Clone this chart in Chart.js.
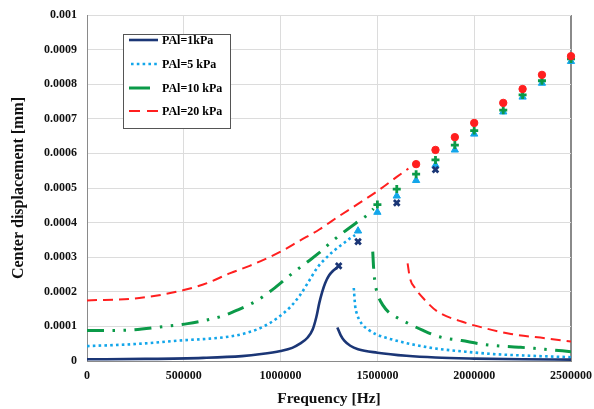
<!DOCTYPE html>
<html>
<head>
<meta charset="utf-8">
<script src="https://cdn.jsdelivr.net/npm/chart.js@4.4.0/dist/chart.umd.min.js"></script>
<style>
  html, body { margin: 0; padding: 0; background: #fff; }
  canvas { display: block; }
</style>
</head>
<body>
<canvas id="chart" width="594" height="409"></canvas>
<script>
// Axis tick labels
const xTickLabels = ['0', '500000', '1000000', '1500000', '2000000', '2500000'];
const yTickLabels = ['0', '0.0001', '0.0002', '0.0003', '0.0004', '0.0005',
                     '0.0006', '0.0007', '0.0008', '0.0009', '0.001'];

// Series names
const seriesNames = ['PAl=1kPa', 'PAl=5 kPa', 'PAl=10 kPa', 'PAl=20 kPa'];

// PAl = 1 kPa : curve below and above resonance [Hz], [mm]
const freq1L = [0, 300000, 600000, 800000, 900000, 1000000, 1060000, 1100000, 1140000, 1165000,
                1185000, 1200000, 1215000, 1230000, 1250000, 1270000, 1290000];
const disp1L = [0.000005, 0.000006, 0.000009, 0.000014, 0.00002, 0.000029, 0.000038, 0.00005, 0.000068, 0.00009,
                0.000128, 0.000168, 0.0002, 0.000225, 0.000247, 0.00026, 0.000269];
const freq1R = [1293000, 1310000, 1330000, 1360000, 1400000, 1500000, 1650000, 1800000, 2000000, 2250000, 2500000];
const disp1R = [0.000097, 0.000075, 0.000058, 0.000044, 0.000034, 0.000024, 0.000015, 0.00001, 0.000007, 0.000005, 0.000004];

// PAl = 5 kPa
const freq5L = [0, 250000, 500000, 620000, 740000, 830000, 910000, 980000, 1050000, 1100000,
                1140000, 1190000, 1230000, 1270000, 1320000, 1360000, 1385000];
const disp5L = [0.000043, 0.000049, 0.00006, 0.000064, 0.000071, 0.000082, 0.000099, 0.000123, 0.000156, 0.00019,
                0.000225, 0.00027, 0.000295, 0.000316, 0.000338, 0.000355, 0.000364];
const freq5R = [1378000, 1385000, 1395000, 1420000, 1455000, 1490000, 1590000, 1690000, 1800000, 1935000,
                2100000, 2300000, 2500000];
const disp5R = [0.000211, 0.00016, 0.000135, 0.000107, 0.00009, 0.000078, 0.00006, 0.000047, 0.000036, 0.000028,
                0.00002, 0.000015, 0.000011];

// PAl = 10 kPa
const freq10L = [0, 200000, 400000, 520000, 600000, 700000, 780000, 870000, 960000, 1060000,
                 1140000, 1200000, 1260000, 1320000, 1400000, 1450000, 1480000];
const disp10L = [0.000088, 0.000089, 0.0001, 0.000108, 0.000116, 0.00013, 0.000148, 0.000172, 0.000207, 0.000253,
                 0.000287, 0.000313, 0.000343, 0.00037, 0.000403, 0.000423, 0.00044];
const freq10R = [1476000, 1480000, 1487000, 1500000, 1530000, 1560000, 1600000, 1640000, 1730000, 1820000,
                 1935000, 2060000, 2230000, 2365000, 2500000];
const disp10R = [0.000316, 0.000273, 0.00023, 0.000195, 0.00016, 0.00014, 0.000126, 0.000114, 0.00009, 0.00007,
                 0.000059, 0.000047, 0.00004, 0.000034, 0.000027];

// PAl = 20 kPa
const freq20L = [0, 270000, 500000, 620000, 740000, 840000, 1000000, 1100000, 1200000, 1300000,
                 1400000, 1500000, 1600000, 1660000];
const disp20L = [0.000175, 0.000182, 0.000205, 0.000225, 0.000254, 0.000275, 0.000316, 0.000348, 0.00038, 0.000418,
                 0.000454, 0.000491, 0.000532, 0.000556];
const freq20R = [1656000, 1668000, 1694000, 1746000, 1810000, 1935000, 2040000, 2190000, 2365000, 2500000];
const disp20R = [0.000282, 0.00024, 0.000211, 0.000176, 0.000143, 0.000114, 0.000097, 0.000078, 0.000066, 0.000056];

// Discrete (marker) results
const markFreq1 = [1300000, 1400000, 1600000, 1800000];
const markDisp1 = [0.000275, 0.000345, 0.000457, 0.000553];
const markFreq5 = [1400000, 1500000, 1600000, 1700000, 1800000, 1900000, 2000000, 2150000, 2250000, 2350000, 2500000];
const markDisp5 = [0.000376, 0.00043, 0.000477, 0.000522, 0.000566, 0.00061, 0.000656, 0.00072, 0.000763, 0.000803, 0.000866];
const markFreq10 = [1500000, 1600000, 1700000, 1800000, 1900000, 2000000, 2150000, 2250000, 2350000, 2500000];
const markDisp10 = [0.000452, 0.000497, 0.00054, 0.000581, 0.000624, 0.000666, 0.000725, 0.000769, 0.00081, 0.000873];
const markFreq20 = [1700000, 1800000, 1900000, 2000000, 2150000, 2250000, 2350000, 2500000];
const markDisp20 = [0.000569, 0.00061, 0.000647, 0.000688, 0.000746, 0.000786, 0.000827, 0.000881];

// Helpers
const toPoints = (xs, ys) => xs.map((x, i) => ({ x: x, y: ys[i] }));
// Two branches joined with a gap so the line breaks at the jump
const branches = (xl, yl, xr, yr) =>
  toPoints(xl, yl).concat([{ x: (xl[xl.length - 1] + xr[0]) / 2, y: null }], toPoints(xr, yr));

const NAVY = '#1b3676';
const SKY = '#13a6ea';
const GREEN = '#0b9a48';
const RED = '#ff1f1f';
const SERIF = "'Liberation Serif', 'Times New Roman', serif";

const lineBase = {
  type: 'line',
  pointRadius: 0,
  pointHoverRadius: 0,
  fill: false,
  spanGaps: false,
  cubicInterpolationMode: 'monotone',
  order: 10
};

const datasets = [
  Object.assign({}, lineBase, {
    label: seriesNames[0], data: branches(freq1L, disp1L, freq1R, disp1R),
    borderColor: NAVY, borderWidth: 2.6
  }),
  Object.assign({}, lineBase, {
    label: seriesNames[1], data: branches(freq5L, disp5L, freq5R, disp5R),
    borderColor: SKY, borderWidth: 2.6, borderDash: [2.6, 3.2]
  }),
  Object.assign({}, lineBase, {
    label: seriesNames[2], data: branches(freq10L, disp10L, freq10R, disp10R),
    borderColor: GREEN, borderWidth: 3, borderDash: [17, 8.5, 2.5, 8.5, 2.5, 8.5]
  }),
  Object.assign({}, lineBase, {
    label: seriesNames[3], data: branches(freq20L, disp20L, freq20R, disp20R),
    borderColor: RED, borderWidth: 2, borderDash: [10, 6]
  }),
  {
    type: 'scatter', label: 'm5', data: toPoints(markFreq5, markDisp5),
    pointStyle: 'triangle', pointRadius: 4.2, backgroundColor: SKY, borderColor: SKY, borderWidth: 1,
    clip: false, order: 4
  },
  {
    type: 'scatter', label: 'm1', data: toPoints(markFreq1, markDisp1),
    pointStyle: 'crossRot', pointRadius: 4, borderColor: NAVY, borderWidth: 2.8,
    clip: false, order: 3
  },
  {
    type: 'scatter', label: 'm10', data: toPoints(markFreq10, markDisp10),
    pointStyle: 'cross', pointRadius: 4, borderColor: GREEN, borderWidth: 2.8,
    clip: false, order: 2
  },
  {
    type: 'scatter', label: 'm20', data: toPoints(markFreq20, markDisp20),
    pointStyle: 'circle', pointRadius: 3.7, backgroundColor: RED, borderColor: RED, borderWidth: 1,
    clip: false, order: 1
  }
];

// Boxed legend inside the plot area, top-left
const legendSamples = [
  { x0: 129, x1: 158 },
  { x0: 131, x1: 158 },
  { x0: 129, x1: 150, dash: [] },
  { x0: 129, x1: 158, dash: [11, 7] }
];
const insetLegend = {
  id: 'insetLegend',
  afterDatasetsDraw(chart) {
    const ctx = chart.ctx;
    const box = { x: 123.5, y: 34.5, w: 107, h: 94 };
    const rowY = [40, 64, 88, 111];
    ctx.save();
    ctx.fillStyle = '#ffffff';
    ctx.fillRect(box.x, box.y, box.w, box.h);
    ctx.strokeStyle = '#555555';
    ctx.lineWidth = 1;
    ctx.strokeRect(box.x, box.y, box.w, box.h);
    ctx.font = 'bold 12px ' + SERIF;
    ctx.textBaseline = 'middle';
    ctx.textAlign = 'left';
    for (let i = 0; i < 4; i++) {
      const ds = chart.data.datasets[i];
      const s = legendSamples[i];
      ctx.beginPath();
      ctx.strokeStyle = ds.borderColor;
      ctx.lineWidth = ds.borderWidth;
      ctx.setLineDash(s.dash || ds.borderDash || []);
      ctx.moveTo(s.x0, rowY[i]);
      ctx.lineTo(s.x1, rowY[i]);
      ctx.stroke();
      ctx.setLineDash([]);
      ctx.fillStyle = '#000';
      ctx.fillText(ds.label, 162, rowY[i] + 1);
    }
    ctx.restore();
  }
};

new Chart(document.getElementById('chart'), {
  data: { datasets: datasets },
  options: {
    responsive: false,
    animation: false,
    events: [],
    layout: { padding: { left: 0, right: 23, top: 15, bottom: 0 } },
    plugins: {
      legend: { display: false },
      tooltip: { enabled: false }
    },
    scales: {
      x: {
        type: 'linear',
        min: 0, max: 2500000,
        afterFit(scale) {
          scale.height = 48;
          scale.paddingLeft = 0;
          scale.paddingRight = 0;
        },
        grid: {
          drawTicks: false,
          color: (c) => (c.tick && c.tick.value === 2500000 ? '#8a8a8a' : '#dcdcdc'),
          lineWidth: (c) => (c.tick && c.tick.value === 2500000 ? 2 : 1)
        },
        border: { color: '#8a8a8a', width: 1 },
        ticks: {
          stepSize: 500000,
          padding: 8,
          color: '#111',
          font: { family: SERIF, size: 12, weight: 'bold' },
          maxRotation: 0,
          callback: (v, i) => xTickLabels[i]
        },
        title: {
          display: true,
          text: 'Frequency [Hz]',
          color: '#111',
          font: { family: SERIF, size: 15.5, weight: 'bold' },
          padding: { top: 0, bottom: 1 }
        }
      },
      y: {
        type: 'linear',
        min: 0, max: 0.001,
        afterFit(scale) {
          scale.width = 87;
          scale.paddingTop = 0;
          scale.paddingBottom = 0;
        },
        grid: { drawTicks: false, color: '#dcdcdc', lineWidth: 1 },
        border: { color: '#8a8a8a', width: 1 },
        ticks: {
          stepSize: 0.0001,
          padding: 10,
          color: '#111',
          font: { family: SERIF, size: 12, weight: 'bold' },
          callback: (v, i) => yTickLabels[i]
        },
        title: {
          display: true,
          text: 'Center displacement [mm]',
          color: '#111',
          font: { family: SERIF, size: 16, weight: 'bold' },
          padding: { top: 9, bottom: 0 }
        }
      }
    }
  },
  plugins: [insetLegend]
});
</script>
</body>
</html>
